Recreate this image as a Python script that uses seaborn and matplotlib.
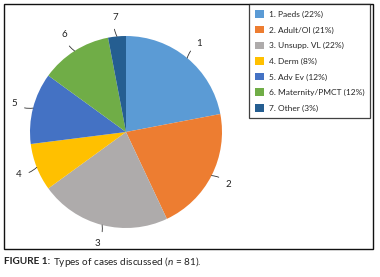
import numpy as np
import matplotlib
matplotlib.use("Agg")
import matplotlib.pyplot as plt
import seaborn as sns
from matplotlib.patches import Rectangle, Patch

# data
labels = ["1. Paeds (22%)", "2. Adult/OI (21%)", "3. Unsupp. VL (22%)",
          "4. Derm (8%)", "5. Adv Ev (12%)", "6. Maternity/PMCT (12%)",
          "7. Other (3%)"]
numbers = ["1", "2", "3", "4", "5", "6", "7"]
shares = [22, 21, 22, 8, 12, 12, 3]
colors = sns.color_palette(["#5B9BD5", "#ED7D31", "#AEABAB", "#FFC000",
                            "#4472C4", "#70AD47", "#255E91"])

sns.set_theme(style="white")
plt.rcParams["font.family"] = ["Lato", "DejaVu Sans"]
plt.rcParams["mathtext.fontset"] = "custom"
plt.rcParams["mathtext.rm"] = "Lato"
plt.rcParams["mathtext.it"] = "Lato:italic"
plt.rcParams["mathtext.bf"] = "Lato:bold"

W, H = 380, 277
fig = plt.figure(figsize=(W / 100, H / 100), dpi=100)

# pie axes: centre (126,132), radius 96 px
cx, cy, r = 126, 132, 96
ax = fig.add_axes([(cx - r) / W, (H - cy - r) / H, 2 * r / W, 2 * r / H])
wedges, _ = ax.pie(shares, colors=colors, startangle=90, counterclock=False,
                   radius=1, wedgeprops=dict(linewidth=0))
ax.set_xlim(-1, 1)
ax.set_ylim(-1, 1)
ax.set_aspect("equal")
ax.axis("off")

# number labels with small leader lines
for w, num in zip(wedges, numbers):
    ang = np.deg2rad((w.theta1 + w.theta2) / 2)
    x0, y0 = np.cos(ang), np.sin(ang)
    ax.annotate(num, xy=(1.0 * x0, 1.0 * y0), xytext=(1.2 * x0, 1.2 * y0),
                ha="center", va="center", fontsize=7, color="#222222",
                annotation_clip=False,
                arrowprops=dict(arrowstyle="-", color="#333333", lw=0.6,
                                shrinkA=3, shrinkB=0,
                                connectionstyle="arc3,rad=0.2"))

# outer frame
fig.patches.append(Rectangle((4 / W, (H - 249) / H), 369 / W, 245 / H,
                             transform=fig.transFigure, fill=False,
                             edgecolor="#111111", lw=1.0))

# legend
handles = [Patch(facecolor=c, edgecolor="none") for c in colors]
leg = fig.legend(handles, labels, loc="upper left",
                 bbox_to_anchor=(249 / W, 1 - 4 / H), fontsize=6,
                 frameon=True, fancybox=False, handlelength=1.0,
                 handleheight=1.0, handletextpad=0.6, labelspacing=0.95,
                 borderpad=0.75, borderaxespad=0)
leg.get_frame().set_edgecolor("#111111")
leg.get_frame().set_linewidth(0.9)

# caption: bold label followed by regular text
cap_y = 1 - 262 / H
t1 = fig.text(4 / W, cap_y, "FIGURE 1:", fontsize=7.2, fontweight="bold",
              color="#222222", va="center", ha="left")
fig.canvas.draw()
bb = t1.get_window_extent()
fig.text((bb.x1 + 3) / W, cap_y, r"Types of cases discussed ($n$ = 81).",
         fontsize=7.2, color="#222222", va="center", ha="left")

fig.savefig("out.png", dpi=100)
